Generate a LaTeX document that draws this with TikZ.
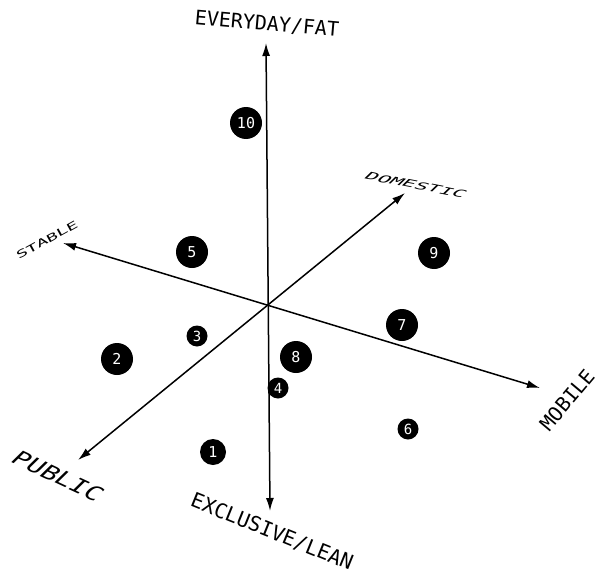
\documentclass[tikz,border=0pt]{standalone}
\usepackage{fontspec}
\setmainfont{DejaVu Sans}
\newfontfamily\monofont{DejaVu Sans Mono}
\usetikzlibrary{arrows.meta}
\begin{document}
\begin{tikzpicture}[x=1pt,y=-1pt,
  axis/.style={line width=1.5pt,{Latex[length=13pt,width=8pt]}-{Latex[length=13pt,width=8pt]}},
  dot/.style={circle,fill=black,text=white,inner sep=0pt,font=\monofont\fontsize{15}{15}\selectfont},
  bigdot/.style={dot,minimum size=32pt},
  middot/.style={dot,minimum size=26pt},
  smalldot/.style={dot,minimum size=21pt,font=\monofont\fontsize{14}{14}\selectfont},
  lab/.style={inner sep=0pt,transform shape,font=\monofont\fontsize{21}{21}\selectfont}
]
\useasboundingbox (0,0) rectangle (599,575);
\fill[white] (0,0) rectangle (599,575);
% axis ends
\coordinate (top) at (266,43);
\coordinate (bot) at (270,511);
\coordinate (stable) at (63,243);
\coordinate (mobile) at (540,388);
\coordinate (domestic) at (405,193);
\coordinate (public) at (78,460);
\draw[axis] (bot) -- (top);
\draw[axis] (stable) -- (mobile);
\draw[axis] (public) -- (domestic);
% labels
\node[lab,rotate=-5,font=\monofont\fontsize{20}{20}\selectfont] (lfat) at (267,24) {EVERYDAY/FAT};
\node[lab,rotate=-22,font=\monofont\fontsize{20.5}{20.5}\selectfont] (llean) at (272,532) {EXCLUSIVE/LEAN};
\node[lab,rotate=29,yscale=0.55,font=\monofont\fontsize{19}{19}\selectfont] (lstable) at (47,240) {STABLE};
\node[lab,rotate=-11,yscale=0.5,xslant=0.35] (ldom) at (416,185) {DOMESTIC};
\node[lab,rotate=50,font=\monofont\fontsize{20}{20}\selectfont] (lmob) at (567,400) {MOBILE};
\node[lab,rotate=-25,xscale=1.25,xslant=0.3] (lpub) at (58,476) {PUBLIC};
% dots
\node[bigdot] (d10) at (246,123) {10};
\node[bigdot] (d5) at (192,252) {5};
\node[smalldot] (d3) at (197,336) {3};
\node[bigdot] (d2) at (117,359) {2};
\node[bigdot] (d8) at (296,357) {8};
\node[smalldot] (d4) at (278,388) {4};
\node[middot] (d1) at (213,452) {1};
\node[bigdot] (d9) at (434,253) {9};
\node[bigdot] (d7) at (402,325) {7};
\node[smalldot] (d6) at (408,429) {6};
\end{tikzpicture}
\end{document}
